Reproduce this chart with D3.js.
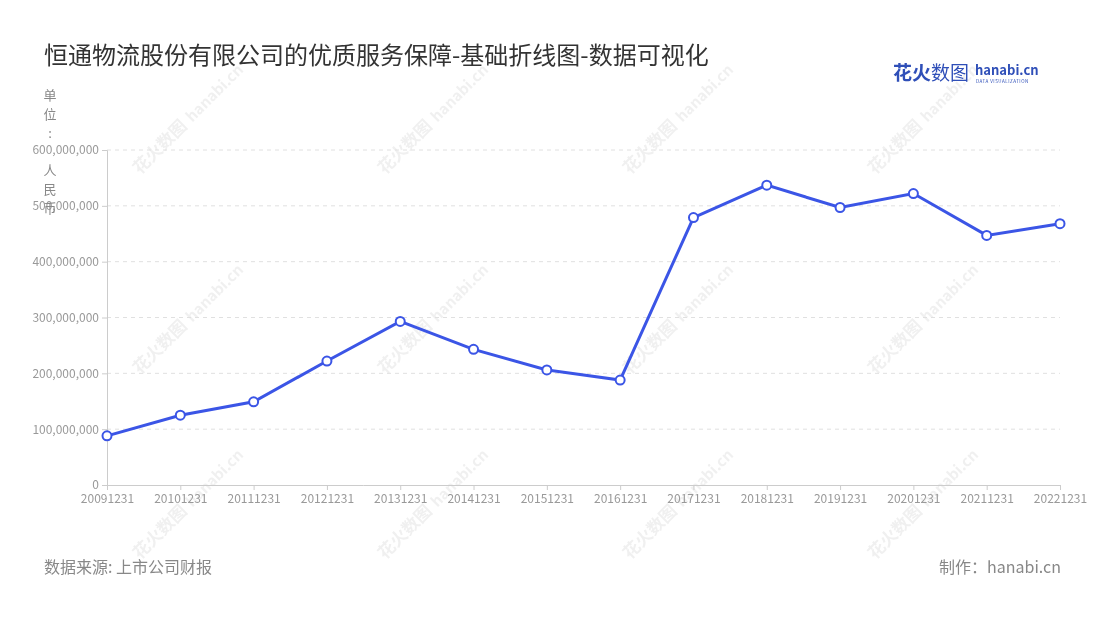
<!DOCTYPE html>
<html><head><meta charset="utf-8">
<script src="https://cdn.jsdelivr.net/npm/d3@7/dist/d3.min.js"></script>
<style>body{margin:0;background:#fff;font-family:"Noto Sans CJK SC","Noto Sans",sans-serif;}</style>
</head><body><svg id="c" width="1100" height="620"></svg>
<script>
const categories = ["20091231","20101231","20111231","20121231","20131231","20141231","20151231","20161231","20171231","20181231","20191231","20201231","20211231","20221231"];
const values = [88e6,125e6,149e6,222e6,293e6,243e6,206e6,188e6,479e6,537e6,497e6,522e6,447e6,468e6];
const yTicks = [0,1e8,2e8,3e8,4e8,5e8,6e8];
const title = "恒通物流股份有限公司的优质服务保障-基础折线图-数据可视化";
const unitLabel = "单位：人民币";
const source = "数据来源: 上市公司财报";
const maker = "制作：hanabi.cn";

const svg = d3.select("#c");
const font = '"Noto Sans CJK SC","Noto Sans",sans-serif';
const x = d3.scalePoint().domain(categories).range([107,1060]);
const y = d3.scaleLinear().domain([0,6e8]).range([485,150]);

// watermarks
const wmG = svg.append("g").attr("opacity",0.08);
[140,385,630,875].forEach(wx=>[175,375,560].forEach(wy=>{
  const g = wmG.append("g").attr("transform",`translate(${wx},${wy}) rotate(-45)`);
  g.append("text").attr("x",0).attr("y",0).attr("font-family",font).attr("font-size",17).attr("font-weight","bold").attr("fill","#444").text("花火数图");
  g.append("text").attr("x",74).attr("y",0).attr("font-family",font).attr("font-size",15).attr("font-weight","bold").attr("fill","#444").text("hanabi.cn");
}));

// gridlines
svg.append("g").selectAll("line").data(yTicks.slice(1)).join("line")
  .attr("x1",107).attr("x2",1060).attr("y1",d=>y(d)).attr("y2",d=>y(d))
  .attr("stroke","#e0e0e0").attr("stroke-dasharray","4,4");

// y axis
const ya = svg.append("g").attr("transform","translate(107,0)")
  .call(d3.axisLeft(y).tickValues(yTicks).tickFormat(d3.format(",")).tickSize(5).tickPadding(3));
ya.select(".domain").attr("stroke","#ccc");
ya.selectAll(".tick line").attr("stroke","#ccc");
ya.selectAll("text").attr("fill","#999").attr("font-size",12).attr("font-family",font);

// x axis
const xa = svg.append("g").attr("transform","translate(0,485)")
  .call(d3.axisBottom(x).tickSize(5).tickPadding(4).tickSizeOuter(0));
xa.select(".domain").attr("stroke","#ccc");
xa.selectAll(".tick line").attr("stroke","#ccc");
xa.selectAll("text").attr("fill","#999").attr("font-size",12).attr("font-family",font);

// line
const pts = categories.map((c,i)=>[c,values[i]]);
svg.append("path").datum(pts)
  .attr("d", d3.line().x(d=>x(d[0])).y(d=>y(d[1])))
  .attr("fill","none").attr("stroke","#3b55e6").attr("stroke-width",3);
svg.append("g").selectAll("circle").data(pts).join("circle")
  .attr("cx",d=>x(d[0])).attr("cy",d=>y(d[1])).attr("r",4.5)
  .attr("fill","#fff").attr("stroke","#3b55e6").attr("stroke-width",2);

// unit label vertical
const ul = svg.append("text").attr("font-family",font).attr("font-size",13).attr("fill","#888").attr("text-anchor","middle");
Array.from(unitLabel).forEach((ch,i)=>{
  ul.append("tspan").attr("x",50).attr("y",100+i*19+(i>=3?18:0)).text(ch==="："?":":ch);
});

// title
svg.append("text").attr("x",44).attr("y",64).attr("font-family",font).attr("font-size",24).attr("fill","#333").text(title);

// logo
svg.append("text").attr("x",893).attr("y",80).attr("font-family",font).attr("font-size",19).attr("font-weight","bold").attr("fill","#2f4fb8").text("花火");
svg.append("text").attr("x",931).attr("y",80).attr("font-family",font).attr("font-size",19).attr("fill","#2f4fb8").text("数图");
svg.append("text").attr("x",975).attr("y",75).attr("font-family",font).attr("font-size",13).attr("font-weight","bold").attr("fill","#2f4fb8").text("hanabi.cn");
svg.append("text").attr("x",976).attr("y",83).attr("font-family",font).attr("font-size",4.5).attr("fill","#2f4fb8").attr("letter-spacing",0.5).text("DATA VISUALIZATION");

// footer
svg.append("text").attr("x",44).attr("y",573).attr("font-family",font).attr("font-size",16).attr("fill","#888").text(source);
svg.append("text").attr("x",1061).attr("y",573).attr("text-anchor","end").attr("font-family",font).attr("font-size",16).attr("fill","#888").text(maker);
</script></body></html>
